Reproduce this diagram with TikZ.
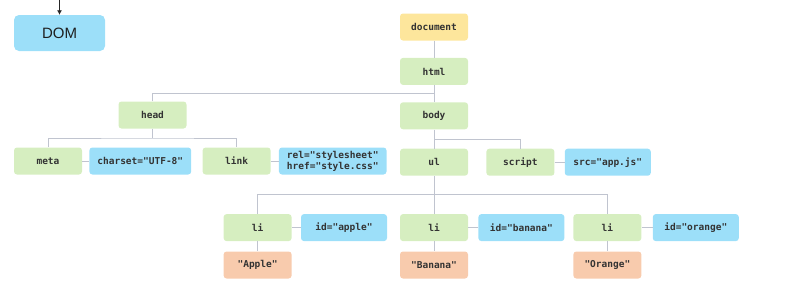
\documentclass[tikz,border=0pt]{standalone}
\usepackage{fontspec}
\setmainfont{Liberation Sans}
\setmonofont{DejaVu Sans Mono}
\usepackage{xcolor}
\usepackage{tikz}
\usetikzlibrary{arrows.meta, positioning, calc}
\definecolor{elemgreen}{HTML}{D6EEC0}
\definecolor{attrblue}{HTML}{9CDFF9}
\definecolor{textorange}{HTML}{F8CBAD}
\definecolor{docyellow}{HTML}{FDE69C}
\definecolor{linegray}{HTML}{C0C4CF}

\begin{document}
\begin{tikzpicture}[
    x=1pt, y=-1pt,
    node distance=17pt and 8pt,
    every node/.style={font=\ttfamily\bfseries\fontsize{9.5}{11}\selectfont, text=black!80},
    elem/.style={rectangle, rounded corners=3pt, fill=elemgreen, minimum width=68pt, minimum height=27pt, inner xsep=8pt, align=center},
    attr/.style={elem, fill=attrblue, minimum width=86pt},
    textbox/.style={elem, fill=textorange},
    rootbox/.style={elem, fill=docyellow},
    dombox/.style={rectangle, rounded corners=5pt, fill=attrblue, minimum width=91pt, minimum height=36pt, text=black!88, font=\rmfamily\fontsize{15}{18}\selectfont},
    branch/.style={draw=linegray, line width=1pt}
]
\useasboundingbox (0,0) rectangle (788,298);

\node (dom) [dombox] at (59.5,33) {DOM};
\coordinate (domin) at (59.5,0);
\draw [-{Latex[length=4.5pt,width=5pt]}, black!85, line width=0.8pt] (domin) -- (dom.north);

% tree of elements
\node (document) [rootbox] at (434,27) {document};
\node (html) [elem, below=of document] {html};
\node (body) [elem, below=of html] {body};
\node (head) [elem] at (152.5,115) {head};
\node (meta) [elem] at (48,161) {meta};
\node (charset) [attr, minimum width=0pt, right=7pt of meta] {charset="UTF-8"};
\node (link) [elem, right=11pt of charset] {link};
\node (relhref) [attr, minimum width=0pt, right=8pt of link] {rel="stylesheet"\\href="style.css"};
\node (ul) [elem, below=19pt of body] {ul};
\node (script) [elem, right=18pt of ul] {script};
\node (src) [attr, right=10pt of script] {src="app.js"};

\node (li2) [elem, below=38pt of ul] {li};
\node (li1) [elem, left=108pt of li2] {li};
\node (li3) [elem, right=105pt of li2] {li};
\node (apple) [attr, right=9pt of li1] {id="apple"};
\node (banana) [attr, right=10pt of li2] {id="banana"};
\node (orange) [attr, right=11pt of li3] {id="orange"};
\node (appletext) [textbox, below=10pt of li1] {"Apple"};
\node (bananatext) [textbox, below=10pt of li2] {"Banana"};
\node (orangetext) [textbox, below=10pt of li3] {"Orange"};

% junctions
\coordinate (htmlj) at ($(html.south)!.5!(body.north)$);
\coordinate (headj) at ($(head.south)!.5!(head.south |- meta.north)$);
\coordinate (bodyj) at ($(body.south)!.5!(ul.north)$);
\coordinate (ulj) at ($(ul.south)!.5!(li2.north)$);

\draw [branch] (document) -- (html);
\draw [branch] (html) -- (body);
\draw [branch] (head.north) |- (htmlj);
\draw [branch] (head.south) -- (headj);
\draw [branch] (meta.north) |- (headj) -| (link.north);
\draw [branch] (body) -- (ul);
\draw [branch] (bodyj) -| (script.north);
\draw [branch] (ul) -- (li2);
\draw [branch] (li1.north) |- (ulj) -| (li3.north);

\draw [branch] (meta) -- (charset);
\draw [branch] (link) -- (relhref);
\draw [branch] (script) -- (src);
\draw [branch] (li1) -- (apple);
\draw [branch] (li2) -- (banana);
\draw [branch] (li3) -- (orange);
\draw [branch] (li1) -- (appletext);
\draw [branch] (li2) -- (bananatext);
\draw [branch] (li3) -- (orangetext);
\end{tikzpicture}
\end{document}
